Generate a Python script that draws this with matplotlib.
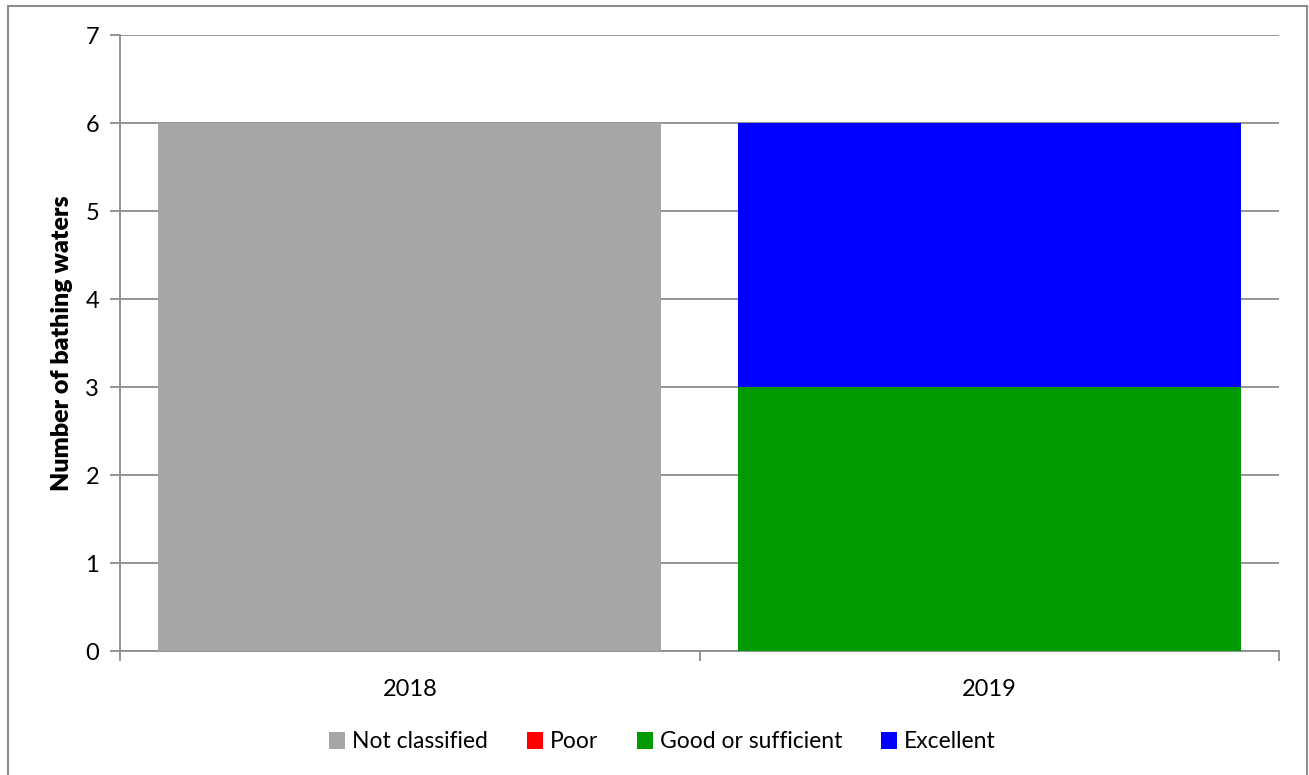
import matplotlib.pyplot as plt
import matplotlib as mpl
from matplotlib.patches import Patch, Rectangle
import numpy as np

years = ['2018', '2019']
not_classified = [6, 0]
poor = [0, 0]
good = [0, 3]
excellent = [0, 3]

series = [('Not classified', not_classified, '#A6A6A6'),
          ('Poor', poor, '#FF0000'),
          ('Good or sufficient', good, '#009900'),
          ('Excellent', excellent, '#0000FF')]

mpl.rcParams['font.family'] = ['Lato', 'DejaVu Sans']
mpl.rcParams['font.size'] = 16

fig = plt.figure(figsize=(13.09, 7.75), dpi=100)
ax = fig.add_axes([120 / 1309, 1 - 651 / 775, (1279 - 120) / 1309, (651 - 35) / 775])

x = np.arange(len(years))
bottom = np.zeros(len(years))
for name, vals, col in series:
    ax.bar(x, vals, width=0.868, bottom=bottom, color=col, label=name, zorder=3)
    bottom += np.array(vals)

gc = '#8C8C8C'
ax.set_xlim(-0.5, 1.5)
ax.set_ylim(0, 7)
ax.set_yticks(range(0, 8))
ax.yaxis.grid(True, color=gc, linewidth=1.3, zorder=0)

# ticks at category boundaries, labels at centres
ax.set_xticks([-0.5, 0.5, 1.5])
ax.set_xticklabels([])
ax.set_xticks(x, minor=True)
ax.set_xticklabels(years, minor=True)
ax.tick_params(axis='x', which='major', length=7, width=1.3, color=gc, direction='out')
ax.tick_params(axis='x', which='minor', length=0, pad=20, labelsize=17)
ax.tick_params(axis='y', length=7, width=1.3, color=gc, direction='out', pad=8, labelsize=17)

for s in ['top', 'right']:
    ax.spines[s].set_visible(False)
for s in ['left', 'bottom']:
    ax.spines[s].set_color(gc)
    ax.spines[s].set_linewidth(1.3)

ax.set_ylabel('Number of bathing waters', fontweight='heavy', fontsize=18, labelpad=9)

handles = [Patch(facecolor=c, label=n) for n, v, c in series]
fig.legend(handles=handles, loc='center', bbox_to_anchor=(0.506, 1 - 742 / 775), ncol=4,
           frameon=False, handlelength=0.7, handleheight=0.7, handletextpad=0.3,
           columnspacing=1.7, fontsize=16.5)

fig.patches.append(Rectangle((8 / 1309, -0.01), (1307 - 8) / 1309, 1.01 - 6 / 775,
                             transform=fig.transFigure, fill=False, edgecolor=gc,
                             linewidth=1.5))

plt.savefig('out.png', dpi=100)
